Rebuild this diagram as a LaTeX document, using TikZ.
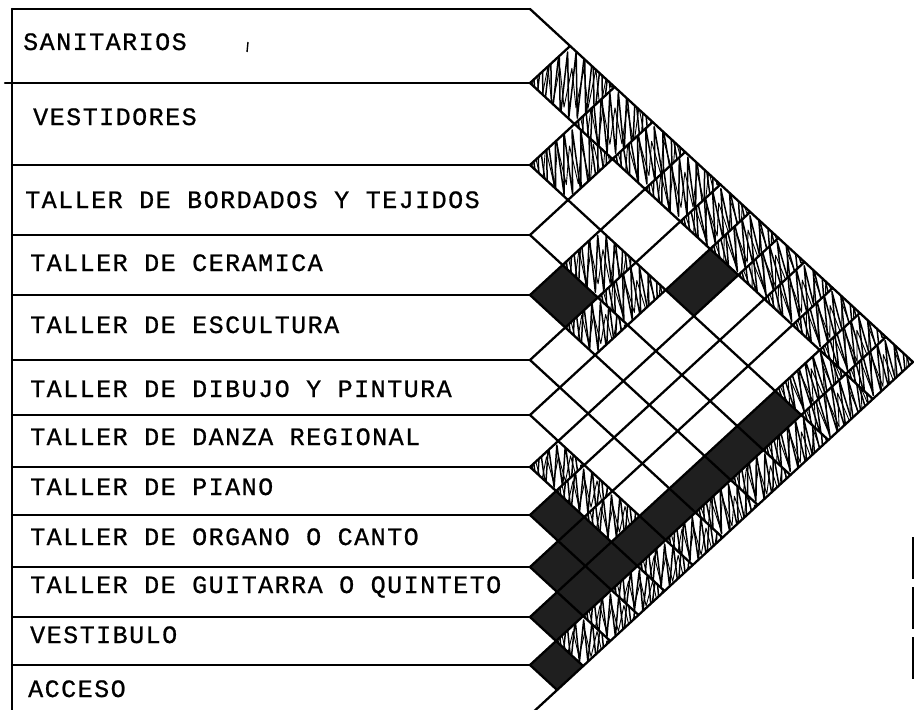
\documentclass[tikz,border=0pt]{standalone}
\usepackage{fontspec}
\newfontfamily\maquina[LetterSpace=6, FakeBold=0.8]{Liberation Mono}
\usetikzlibrary{calc, decorations.pathmorphing}
\tikzstyle{etiqueta} = [anchor=base west, inner sep=0pt,
                        font=\maquina\fontsize{25}{25}\selectfont]
\tikzstyle{linea}    = [line width=2.3pt, line join=round, line cap=round]
\tikzstyle{oscuro}   = [fill=black!88]
\tikzstyle{rayado}   = [line join=round, decorate]

% separaciones entre renglones (y, de arriba hacia abajo)
\def\seps{{9,83,165,235,295,360,415,467,515,567,617,665,715}}

\begin{document}
\begin{tikzpicture}[x=1pt, y=-1pt]
  \useasboundingbox (0,0) rectangle (915,709);
  \clip (0,0) rectangle (915,709);

  % puntos de la reticula
  \foreach \k in {0,...,12}{
    \foreach \l in {\k,...,12}{
      \pgfmathsetmacro\sa{\seps[\k]}
      \pgfmathsetmacro\sb{\seps[\l]}
      \coordinate (p-\k-\l) at ({530+0.5425*(\sb-\sa)},{(\sa+\sb)/2});
    }
  }

  % relacion directa
  \foreach \i/\j in {2/7,3/11,4/5,4/11,5/11,6/11,7/11,8/9,8/10,8/11,
                     9/10,9/11,10/11,11/12}{
    \pgfmathtruncatemacro\im{\i-1}
    \pgfmathtruncatemacro\jm{\j-1}
    \fill[oscuro] (p-\i-\jm) -- (p-\im-\jm) -- (p-\im-\j) -- (p-\i-\j) -- cycle;
  }

  % relacion indirecta
  \foreach \i/\j in {1/2,1/3,1/4,1/5,1/6,1/7,1/8,1/9,1/10,1/11,1/12,
                     2/3,2/11,2/12,3/5,3/6,3/12,4/6,4/12,5/12,6/12,
                     7/8,7/9,7/10,7/12,8/12,9/12,10/12}{
    \pgfmathtruncatemacro\im{\i-1}
    \pgfmathtruncatemacro\jm{\j-1}
    \pgfmathsetmacro\amp{0.21*(\seps[\i]-\seps[\im]+\seps[\j]-\seps[\jm])}
    \begin{scope}
      \clip (p-\i-\jm) -- (p-\im-\jm) -- (p-\im-\j) -- (p-\i-\j) -- cycle;
      \draw[rayado, line width=1.5pt,
            decoration={zigzag, segment length=8.5pt, amplitude=\amp pt}]
        (p-\i-\jm) -- (p-\im-\j);
      \draw[rayado, line width=0.9pt,
            decoration={zigzag, segment length=12pt, amplitude=0.6*\amp pt}]
        ($(p-\i-\jm)+(2,3)$) -- ($(p-\im-\j)+(0,3)$);
    \end{scope}
  }

  % reticula y renglones
  \foreach \k in {0,...,12}{
    \pgfmathsetmacro\sk{\seps[\k]}
    \draw[linea] (p-\k-\k) -- (p-\k-12);
    \draw[linea] (p-\k-\k) -- (p-0-\k);
    \draw[linea] (12,\sk) -- (p-\k-\k);
  }
  \draw[linea] (12,9) -- (12,715);
  \draw[linea] (5,83) -- (12,83);

  \node[etiqueta] (san)  at (23,50)  {SANITARIOS};
  \node[etiqueta] (vest) at (33,125) {VESTIDORES};
  \node[etiqueta] (bor)  at (25,208) {TALLER DE BORDADOS Y TEJIDOS};
  \node[etiqueta] (cer)  at (30,271) {TALLER DE CERAMICA};
  \node[etiqueta] (esc)  at (30,333) {TALLER DE ESCULTURA};
  \node[etiqueta] (dib)  at (30,397) {TALLER DE DIBUJO Y PINTURA};
  \node[etiqueta] (dan)  at (30,445) {TALLER DE DANZA REGIONAL};
  \node[etiqueta] (pia)  at (30,495) {TALLER DE PIANO};
  \node[etiqueta] (org)  at (30,545) {TALLER DE ORGANO O CANTO};
  \node[etiqueta] (gui)  at (30,593) {TALLER DE GUITARRA O QUINTETO};
  \node[etiqueta] (vtb)  at (30,643) {VESTIBULO};
  \node[etiqueta] (acc)  at (28,697) {ACCESO};

  % marcas sueltas
  \draw[line width=1.4pt] (248,42) -- (247,52);
  \draw[line width=1.5pt, dash pattern=on 42pt off 8pt] (913,537) -- (913,686);
\end{tikzpicture}
\end{document}
